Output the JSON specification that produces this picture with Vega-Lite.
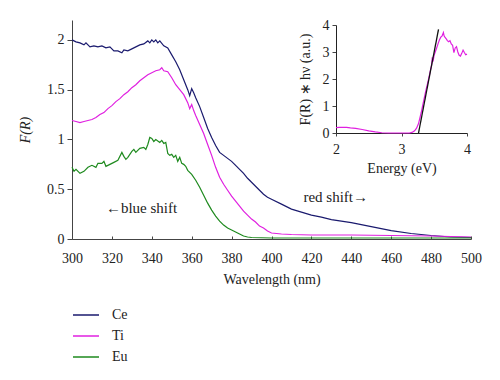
{
  "$schema": "https://vega.github.io/schema/vega-lite/v6.json",
  "autosize": {"type": "none"},
  "width": 399,
  "height": 219,
  "padding": {"left": 72, "top": 20, "right": 29, "bottom": 141},
  "background": "white",
  "config": {
    "font": "Liberation Serif",
    "view": {"stroke": null},
    "axis": {
      "labelFont": "Liberation Serif", "titleFont": "Liberation Serif",
      "labelFontSize": 14, "titleFontSize": 14, "titleFontWeight": "normal",
      "labelColor": "#222", "titleColor": "#222",
      "domainColor": "#444", "tickColor": "#444", "grid": false,
      "labelOverlap": false, "labelFlush": false
    },
    "legend": {"labelFont": "Liberation Serif", "labelFontSize": 14, "labelColor": "#222"},
    "text": {"font": "Liberation Serif"}
  },
  "datasets": {
    "spec": [
      {"sample":"Ce","wavelength":300,"FR":2.00},{"sample":"Ce","wavelength":302,"FR":1.98},{"sample":"Ce","wavelength":304,"FR":1.97},{"sample":"Ce","wavelength":306,"FR":1.95},{"sample":"Ce","wavelength":307,"FR":1.97},{"sample":"Ce","wavelength":309,"FR":1.93},{"sample":"Ce","wavelength":311,"FR":1.94},{"sample":"Ce","wavelength":313,"FR":1.93},{"sample":"Ce","wavelength":315,"FR":1.94},{"sample":"Ce","wavelength":317,"FR":1.92},{"sample":"Ce","wavelength":319,"FR":1.93},{"sample":"Ce","wavelength":321,"FR":1.89},{"sample":"Ce","wavelength":323,"FR":1.89},{"sample":"Ce","wavelength":325,"FR":1.87},{"sample":"Ce","wavelength":326,"FR":1.90},{"sample":"Ce","wavelength":328,"FR":1.89},{"sample":"Ce","wavelength":330,"FR":1.91},{"sample":"Ce","wavelength":332,"FR":1.93},{"sample":"Ce","wavelength":334,"FR":1.95},{"sample":"Ce","wavelength":336,"FR":1.96},{"sample":"Ce","wavelength":338,"FR":1.99},{"sample":"Ce","wavelength":339,"FR":1.97},{"sample":"Ce","wavelength":340,"FR":2.00},{"sample":"Ce","wavelength":341,"FR":1.98},{"sample":"Ce","wavelength":342,"FR":2.00},{"sample":"Ce","wavelength":343,"FR":1.97},{"sample":"Ce","wavelength":344,"FR":1.99},{"sample":"Ce","wavelength":346,"FR":1.94},{"sample":"Ce","wavelength":348,"FR":1.92},{"sample":"Ce","wavelength":350,"FR":1.85},{"sample":"Ce","wavelength":352,"FR":1.78},{"sample":"Ce","wavelength":354,"FR":1.70},{"sample":"Ce","wavelength":356,"FR":1.60},{"sample":"Ce","wavelength":358,"FR":1.50},{"sample":"Ce","wavelength":359,"FR":1.44},{"sample":"Ce","wavelength":360,"FR":1.51},{"sample":"Ce","wavelength":361,"FR":1.47},{"sample":"Ce","wavelength":362,"FR":1.42},{"sample":"Ce","wavelength":364,"FR":1.33},{"sample":"Ce","wavelength":366,"FR":1.22},{"sample":"Ce","wavelength":368,"FR":1.11},{"sample":"Ce","wavelength":370,"FR":1.02},{"sample":"Ce","wavelength":372,"FR":0.94},{"sample":"Ce","wavelength":374,"FR":0.87},{"sample":"Ce","wavelength":376,"FR":0.84},{"sample":"Ce","wavelength":378,"FR":0.81},{"sample":"Ce","wavelength":380,"FR":0.78},{"sample":"Ce","wavelength":382,"FR":0.74},{"sample":"Ce","wavelength":384,"FR":0.70},{"sample":"Ce","wavelength":386,"FR":0.66},{"sample":"Ce","wavelength":388,"FR":0.61},{"sample":"Ce","wavelength":390,"FR":0.57},{"sample":"Ce","wavelength":392,"FR":0.53},{"sample":"Ce","wavelength":394,"FR":0.49},{"sample":"Ce","wavelength":396,"FR":0.45},{"sample":"Ce","wavelength":398,"FR":0.42},{"sample":"Ce","wavelength":400,"FR":0.40},{"sample":"Ce","wavelength":405,"FR":0.35},{"sample":"Ce","wavelength":410,"FR":0.30},{"sample":"Ce","wavelength":415,"FR":0.27},{"sample":"Ce","wavelength":420,"FR":0.24},{"sample":"Ce","wavelength":425,"FR":0.22},{"sample":"Ce","wavelength":430,"FR":0.195},{"sample":"Ce","wavelength":440,"FR":0.165},{"sample":"Ce","wavelength":450,"FR":0.125},{"sample":"Ce","wavelength":460,"FR":0.085},{"sample":"Ce","wavelength":470,"FR":0.055},{"sample":"Ce","wavelength":480,"FR":0.035},{"sample":"Ce","wavelength":490,"FR":0.02},{"sample":"Ce","wavelength":500,"FR":0.015},
      {"sample":"Ti","wavelength":300,"FR":1.19},{"sample":"Ti","wavelength":302,"FR":1.18},{"sample":"Ti","wavelength":304,"FR":1.17},{"sample":"Ti","wavelength":306,"FR":1.18},{"sample":"Ti","wavelength":308,"FR":1.19},{"sample":"Ti","wavelength":310,"FR":1.20},{"sample":"Ti","wavelength":312,"FR":1.22},{"sample":"Ti","wavelength":314,"FR":1.25},{"sample":"Ti","wavelength":316,"FR":1.27},{"sample":"Ti","wavelength":318,"FR":1.31},{"sample":"Ti","wavelength":320,"FR":1.34},{"sample":"Ti","wavelength":322,"FR":1.38},{"sample":"Ti","wavelength":324,"FR":1.41},{"sample":"Ti","wavelength":326,"FR":1.45},{"sample":"Ti","wavelength":328,"FR":1.48},{"sample":"Ti","wavelength":330,"FR":1.52},{"sample":"Ti","wavelength":332,"FR":1.55},{"sample":"Ti","wavelength":334,"FR":1.59},{"sample":"Ti","wavelength":336,"FR":1.62},{"sample":"Ti","wavelength":338,"FR":1.65},{"sample":"Ti","wavelength":340,"FR":1.67},{"sample":"Ti","wavelength":342,"FR":1.69},{"sample":"Ti","wavelength":344,"FR":1.70},{"sample":"Ti","wavelength":345,"FR":1.72},{"sample":"Ti","wavelength":346,"FR":1.69},{"sample":"Ti","wavelength":348,"FR":1.68},{"sample":"Ti","wavelength":350,"FR":1.62},{"sample":"Ti","wavelength":352,"FR":1.55},{"sample":"Ti","wavelength":354,"FR":1.50},{"sample":"Ti","wavelength":356,"FR":1.45},{"sample":"Ti","wavelength":358,"FR":1.37},{"sample":"Ti","wavelength":359,"FR":1.31},{"sample":"Ti","wavelength":360,"FR":1.35},{"sample":"Ti","wavelength":361,"FR":1.29},{"sample":"Ti","wavelength":362,"FR":1.24},{"sample":"Ti","wavelength":364,"FR":1.15},{"sample":"Ti","wavelength":366,"FR":1.06},{"sample":"Ti","wavelength":368,"FR":0.95},{"sample":"Ti","wavelength":370,"FR":0.84},{"sample":"Ti","wavelength":372,"FR":0.72},{"sample":"Ti","wavelength":374,"FR":0.62},{"sample":"Ti","wavelength":376,"FR":0.55},{"sample":"Ti","wavelength":378,"FR":0.49},{"sample":"Ti","wavelength":380,"FR":0.43},{"sample":"Ti","wavelength":382,"FR":0.38},{"sample":"Ti","wavelength":384,"FR":0.33},{"sample":"Ti","wavelength":386,"FR":0.28},{"sample":"Ti","wavelength":388,"FR":0.24},{"sample":"Ti","wavelength":390,"FR":0.20},{"sample":"Ti","wavelength":392,"FR":0.17},{"sample":"Ti","wavelength":394,"FR":0.13},{"sample":"Ti","wavelength":396,"FR":0.11},{"sample":"Ti","wavelength":398,"FR":0.08},{"sample":"Ti","wavelength":400,"FR":0.06},{"sample":"Ti","wavelength":405,"FR":0.05},{"sample":"Ti","wavelength":410,"FR":0.045},{"sample":"Ti","wavelength":420,"FR":0.04},{"sample":"Ti","wavelength":440,"FR":0.04},{"sample":"Ti","wavelength":460,"FR":0.035},{"sample":"Ti","wavelength":480,"FR":0.03},{"sample":"Ti","wavelength":500,"FR":0.02},
      {"sample":"Eu","wavelength":300,"FR":0.72},{"sample":"Eu","wavelength":301,"FR":0.68},{"sample":"Eu","wavelength":302,"FR":0.70},{"sample":"Eu","wavelength":304,"FR":0.66},{"sample":"Eu","wavelength":306,"FR":0.68},{"sample":"Eu","wavelength":308,"FR":0.72},{"sample":"Eu","wavelength":310,"FR":0.74},{"sample":"Eu","wavelength":312,"FR":0.72},{"sample":"Eu","wavelength":313,"FR":0.76},{"sample":"Eu","wavelength":315,"FR":0.76},{"sample":"Eu","wavelength":316,"FR":0.78},{"sample":"Eu","wavelength":317,"FR":0.73},{"sample":"Eu","wavelength":319,"FR":0.75},{"sample":"Eu","wavelength":321,"FR":0.77},{"sample":"Eu","wavelength":323,"FR":0.79},{"sample":"Eu","wavelength":325,"FR":0.87},{"sample":"Eu","wavelength":326,"FR":0.83},{"sample":"Eu","wavelength":327,"FR":0.80},{"sample":"Eu","wavelength":328,"FR":0.82},{"sample":"Eu","wavelength":330,"FR":0.88},{"sample":"Eu","wavelength":331,"FR":0.90},{"sample":"Eu","wavelength":332,"FR":0.87},{"sample":"Eu","wavelength":334,"FR":0.91},{"sample":"Eu","wavelength":336,"FR":0.92},{"sample":"Eu","wavelength":337,"FR":0.90},{"sample":"Eu","wavelength":338,"FR":0.95},{"sample":"Eu","wavelength":339,"FR":1.02},{"sample":"Eu","wavelength":340,"FR":1.01},{"sample":"Eu","wavelength":341,"FR":0.98},{"sample":"Eu","wavelength":342,"FR":1.00},{"sample":"Eu","wavelength":344,"FR":0.97},{"sample":"Eu","wavelength":345,"FR":0.99},{"sample":"Eu","wavelength":346,"FR":0.96},{"sample":"Eu","wavelength":347,"FR":0.97},{"sample":"Eu","wavelength":348,"FR":0.86},{"sample":"Eu","wavelength":349,"FR":0.84},{"sample":"Eu","wavelength":350,"FR":0.85},{"sample":"Eu","wavelength":351,"FR":0.82},{"sample":"Eu","wavelength":352,"FR":0.84},{"sample":"Eu","wavelength":353,"FR":0.78},{"sample":"Eu","wavelength":354,"FR":0.82},{"sample":"Eu","wavelength":355,"FR":0.76},{"sample":"Eu","wavelength":356,"FR":0.75},{"sample":"Eu","wavelength":357,"FR":0.73},{"sample":"Eu","wavelength":358,"FR":0.69},{"sample":"Eu","wavelength":360,"FR":0.65},{"sample":"Eu","wavelength":362,"FR":0.59},{"sample":"Eu","wavelength":364,"FR":0.52},{"sample":"Eu","wavelength":366,"FR":0.44},{"sample":"Eu","wavelength":368,"FR":0.36},{"sample":"Eu","wavelength":370,"FR":0.29},{"sample":"Eu","wavelength":372,"FR":0.23},{"sample":"Eu","wavelength":374,"FR":0.18},{"sample":"Eu","wavelength":376,"FR":0.14},{"sample":"Eu","wavelength":378,"FR":0.11},{"sample":"Eu","wavelength":380,"FR":0.09},{"sample":"Eu","wavelength":382,"FR":0.07},{"sample":"Eu","wavelength":384,"FR":0.05},{"sample":"Eu","wavelength":386,"FR":0.03},{"sample":"Eu","wavelength":388,"FR":0.02},{"sample":"Eu","wavelength":390,"FR":0.015},{"sample":"Eu","wavelength":400,"FR":0.01},{"sample":"Eu","wavelength":450,"FR":0.01},{"sample":"Eu","wavelength":500,"FR":0.01}
    ],
    "notes": [
      {"wavelength": 317, "FR": 0.31, "label": "←blue shift"},
      {"wavelength": 416, "FR": 0.42, "label": "red shift→"}
    ],
    "inset": [
      {"E":2.00,"Y":0.20},{"E":2.05,"Y":0.21},{"E":2.10,"Y":0.21},{"E":2.16,"Y":0.21},{"E":2.22,"Y":0.19},{"E":2.30,"Y":0.17},{"E":2.40,"Y":0.13},{"E":2.50,"Y":0.08},{"E":2.60,"Y":0.04},{"E":2.70,"Y":0.01},{"E":2.80,"Y":0.0},{"E":3.00,"Y":0.0},{"E":3.12,"Y":0.0},{"E":3.16,"Y":0.02},{"E":3.20,"Y":0.08},{"E":3.23,"Y":0.18},{"E":3.26,"Y":0.35},{"E":3.30,"Y":0.75},{"E":3.33,"Y":1.1},{"E":3.37,"Y":1.55},{"E":3.41,"Y":1.96},{"E":3.44,"Y":2.3},{"E":3.46,"Y":2.52},{"E":3.47,"Y":2.8},{"E":3.48,"Y":2.64},{"E":3.50,"Y":2.9},{"E":3.53,"Y":3.1},{"E":3.56,"Y":3.32},{"E":3.58,"Y":3.45},{"E":3.60,"Y":3.55},{"E":3.62,"Y":3.6},{"E":3.64,"Y":3.72},{"E":3.65,"Y":3.6},{"E":3.66,"Y":3.56},{"E":3.68,"Y":3.5},{"E":3.70,"Y":3.42},{"E":3.72,"Y":3.38},{"E":3.74,"Y":3.42},{"E":3.76,"Y":3.3},{"E":3.78,"Y":3.25},{"E":3.80,"Y":2.98},{"E":3.82,"Y":3.15},{"E":3.84,"Y":3.2},{"E":3.86,"Y":3.0},{"E":3.88,"Y":2.88},{"E":3.90,"Y":2.85},{"E":3.92,"Y":2.95},{"E":3.94,"Y":3.07},{"E":3.96,"Y":2.98},{"E":3.98,"Y":2.9},{"E":4.00,"Y":2.92}
    ],
    "fit": [
      {"E": 3.26, "Y": 0},
      {"E": 3.565, "Y": 3.84}
    ]
  },
  "layer": [
    {
      "layer": [
        {
          "data": {"name": "spec"},
          "mark": {"type": "line", "strokeWidth": 1.2},
          "encoding": {
            "x": {"field": "wavelength", "type": "quantitative",
                  "scale": {"domain": [300, 500], "nice": false},
                  "axis": {"values": [300,320,340,360,380,400,420,440,460,480,500], "tickCount": 30, "format": "d", "labelFont": "Liberation Serif", "titleFont": "Liberation Serif", "labelOverlap": false, "title": "Wavelength (nm)", "tickSize": -3, "labelPadding": 15, "titlePadding": 7}},
            "y": {"field": "FR", "type": "quantitative",
                  "scale": {"domain": [0, 2.2], "nice": false},
                  "axis": {"values": [0, 0.5, 1, 1.5, 2], "tickCount": 30, "format": "~f", "labelFont": "Liberation Serif", "titleFont": "Liberation Serif", "title": "F(R)", "titleFontStyle": "italic", "tickSize": 5, "labelPadding": 3, "titlePadding": 14}},
            "color": {"field": "sample", "type": "nominal",
                      "scale": {"domain": ["Ce", "Ti", "Eu"], "range": ["#1a1a6e", "#e020e0", "#1e8a1e"]},
                      "legend": {"title": null, "orient": "none", "legendX": 0, "legendY": 281, "symbolType": "stroke", "symbolSize": 676, "symbolStrokeWidth": 1.5, "labelOffset": 12, "rowPadding": -4, "labelFont": "Liberation Serif"}}
          }
        },
        {
          "data": {"name": "notes"},
          "mark": {"type": "text", "align": "left", "baseline": "middle", "font": "Liberation Serif", "fontSize": 15, "color": "#222"},
          "encoding": {
            "x": {"field": "wavelength", "type": "quantitative"},
            "y": {"field": "FR", "type": "quantitative"},
            "text": {"field": "label"}
          }
        }
      ]
    },
    {
      "layer": [
        {
          "data": {"name": "inset"},
          "mark": {"type": "line", "strokeWidth": 1.2, "color": "#e020e0"},
          "encoding": {
            "x": {"field": "E", "type": "quantitative",
                  "scale": {"domain": [2, 4], "range": [264, 395], "nice": false},
                  "axis": {"orient": "bottom", "offset": -106, "values": [2, 3, 4], "tickCount": 30, "format": "~g", "labelFont": "Liberation Serif", "titleFont": "Liberation Serif", "labelOverlap": false, "title": "Energy (eV)", "tickSize": 3, "labelPadding": 6, "titlePadding": 5, "domainColor": "#222"}},
            "y": {"field": "Y", "type": "quantitative",
                  "scale": {"domain": [0, 4], "range": [113, 5], "nice": false},
                  "axis": {"orient": "left", "offset": -264, "values": [0, 1, 2, 3, 4], "tickCount": 30, "format": "~g", "labelFont": "Liberation Serif", "titleFont": "Liberation Serif", "labelOverlap": false, "title": "F(R) ∗ hν (a.u.)", "tickSize": 4, "labelPadding": 3, "titlePadding": 10, "domainColor": "#222"}}
          }
        },
        {
          "data": {"name": "fit"},
          "mark": {"type": "line", "strokeWidth": 1.3, "color": "#111"},
          "encoding": {
            "x": {"field": "E", "type": "quantitative"},
            "y": {"field": "Y", "type": "quantitative"}
          }
        }
      ]
    }
  ],
  "resolve": {
    "scale": {"x": "independent", "y": "independent", "color": "independent"},
    "axis": {"x": "independent", "y": "independent"}
  }
}
